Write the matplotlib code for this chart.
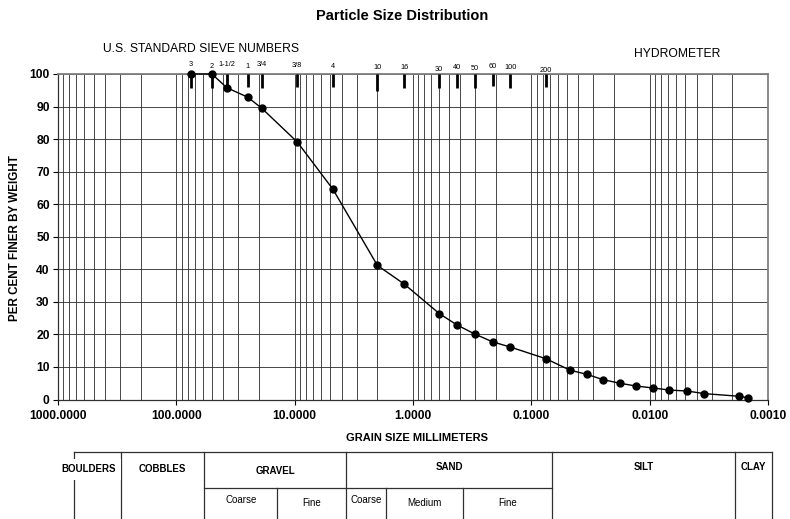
import matplotlib
matplotlib.use("Agg")
import matplotlib.pyplot as plt
from matplotlib.ticker import LogLocator, FuncFormatter, NullFormatter, FixedLocator
from matplotlib.lines import Line2D

plt.rcParams['font.family'] = ['Liberation Sans', 'DejaVu Sans']

W, H = 790, 519

# grain size (mm) and per cent finer, sieve + hydrometer
grain_mm = [75, 50, 37.5, 25, 19, 9.5, 4.75, 2.0, 1.18, 0.6, 0.425, 0.3, 0.212, 0.15, 0.075,
            0.0471, 0.0341, 0.0248, 0.0179, 0.0131, 0.0094, 0.0068, 0.0048, 0.00345,
            0.00176, 0.00147]
pct_finer = [100, 100, 95.8, 92.9, 89.5, 79.1, 64.6, 41.2, 35.4, 26.4, 22.9, 20.1, 17.7,
             16.1, 12.5, 9.0, 7.75, 6.1, 5.0, 4.15, 3.55, 2.9, 2.6, 1.8, 1.0, 0.5]

# U.S. standard sieves shown along the top
sieve_labels = ['3', '2', '1-1/2', '1', '3/4', '3/8', '4', '10', '16', '30', '40', '50',
                '60', '100', '200']
sieve_mm = [75, 50, 37.5, 25, 19, 9.5, 4.75, 2.0, 1.18, 0.6, 0.425, 0.3, 0.212, 0.15, 0.075]

x_ticks = [1000, 100, 10, 1, 0.1, 0.01, 0.001]
y_ticks = [0, 10, 20, 30, 40, 50, 60, 70, 80, 90, 100]

# soil classification table under the chart
top_row = ['BOULDERS', 'COBBLES', 'GRAVEL', 'SAND', 'SILT', 'CLAY']
sub_row = ['Coarse', 'Fine', 'Coarse', 'Medium', 'Fine']

# --- layout (pixels) ---
label_raise_px = [9, 7.5, 9, 7, 9, 8.5, 8, 6.7, 6.7, 4.7, 6.7, 5, 8, 6.7, 3.3]
tick_depth_px = [14, 14, 13, 13, 14, 13, 13, 17, 14, 14, 14, 14, 12, 14, 13]


def fx(x):
    return x / W


def fy(y):
    return 1 - y / H


fig = plt.figure(figsize=(W / 100, H / 100), dpi=100)
ax = fig.add_axes([fx(58), fy(399.5), (768 - 58) / W, (399.5 - 74) / H])

ax.set_xscale('log')
ax.set_xlim(1000, 0.001)
ax.set_ylim(0, 100)

ax.xaxis.set_major_locator(FixedLocator(x_ticks))
ax.xaxis.set_minor_locator(LogLocator(base=10, subs=range(2, 10), numticks=20))
ax.xaxis.set_major_formatter(FuncFormatter(lambda v, p: f"{v:.4f}"))
ax.xaxis.set_minor_formatter(NullFormatter())
ax.yaxis.set_major_locator(FixedLocator(y_ticks))

ax.grid(which='both', axis='x', color='#2a2a2a', lw=0.6)
ax.grid(which='major', axis='y', color='#2a2a2a', lw=0.6)
ax.set_axisbelow(True)

ax.tick_params(axis='x', which='major', length=3.5, width=0.8, pad=4)
ax.tick_params(axis='x', which='minor', length=0)
ax.tick_params(axis='y', length=3.5, width=0.8, pad=2.5)
for lab in ax.get_xticklabels() + ax.get_yticklabels():
    lab.set_fontweight('bold')
    lab.set_fontsize(8.7)

for side in ['top', 'right']:
    ax.spines[side].set_color('#808080')
    ax.spines[side].set_linewidth(1.3)
for side in ['left', 'bottom']:
    ax.spines[side].set_color('#303030')
    ax.spines[side].set_linewidth(0.9)

ax.plot(grain_mm, pct_finer, color='black', lw=1.0, marker='o', ms=5,
        clip_on=False, zorder=5)

# sieve marks and numbers
px_per_pct = (399.5 - 74) / 100
for lab, d, rise, depth in zip(sieve_labels, sieve_mm, label_raise_px, tick_depth_px):
    ax.vlines(d, 100 - depth / px_per_pct, 100, colors='black', lw=2.0, zorder=4)
    ax.annotate(lab, xy=(d, 1.0), xycoords=('data', 'axes fraction'),
                xytext=(0, rise * 0.72), textcoords='offset points',
                ha='center', va='center', fontsize=5.3)

fig.text(fx(402), fy(16), 'Particle Size Distribution', ha='center', va='center',
         fontsize=10.5, fontweight='bold')
fig.text(fx(201), fy(48.5), 'U.S. STANDARD SIEVE NUMBERS', ha='center', va='center',
         fontsize=8.7)
fig.text(fx(677), fy(54), 'HYDROMETER', ha='center', va='center', fontsize=8.7)
fig.text(fx(15), fy(238), 'PER CENT FINER BY WEIGHT', ha='center', va='center',
         rotation=90, fontsize=8.4, fontweight='bold')
fig.text(fx(417), fy(438), 'GRAIN SIZE MILLIMETERS', ha='center', va='center',
         fontsize=8, fontweight='bold')

# classification table
t_top, t_mid, t_bot = 452, 487.7, 519
edges = [74.3, 120.7, 204.3, 346, 552.3, 735, 772.3]
sub_edges = [277.3, 386, 462.7]
tcol = '#303030'


def hline(x0, x1, y):
    fig.add_artist(Line2D([fx(x0), fx(x1)], [fy(y), fy(y)], color=tcol, lw=0.9))


def vline(x, y0, y1):
    fig.add_artist(Line2D([fx(x), fx(x)], [fy(y0), fy(y1)], color=tcol, lw=0.9))


hline(edges[0], edges[-1], t_top)
hline(edges[2], edges[4], t_mid)
for x in edges:
    vline(x, t_top, t_bot)
for x in sub_edges:
    vline(x, t_mid, t_bot)

top_y = [469.5, 469.5, 471.5, 467.5, 467.5, 467.5]
for i, name in enumerate(top_row):
    xc = (edges[i] + edges[i + 1]) / 2
    kw = {}
    if name == 'BOULDERS':
        xc = 88.3
        kw['bbox'] = dict(fc='white', ec='none', pad=4)
    fig.text(fx(xc), fy(top_y[i]), name, ha='center', va='center', fontsize=7,
             fontweight='bold', **kw)

sub_bounds = [edges[2], sub_edges[0], edges[3], sub_edges[1], sub_edges[2], edges[4]]
sub_y = [500, 503, 500, 503, 503]
for i, name in enumerate(sub_row):
    xc = (sub_bounds[i] + sub_bounds[i + 1]) / 2
    fig.text(fx(xc), fy(sub_y[i]), name, ha='center', va='center', fontsize=7)

fig.savefig('out.png', dpi=100)
